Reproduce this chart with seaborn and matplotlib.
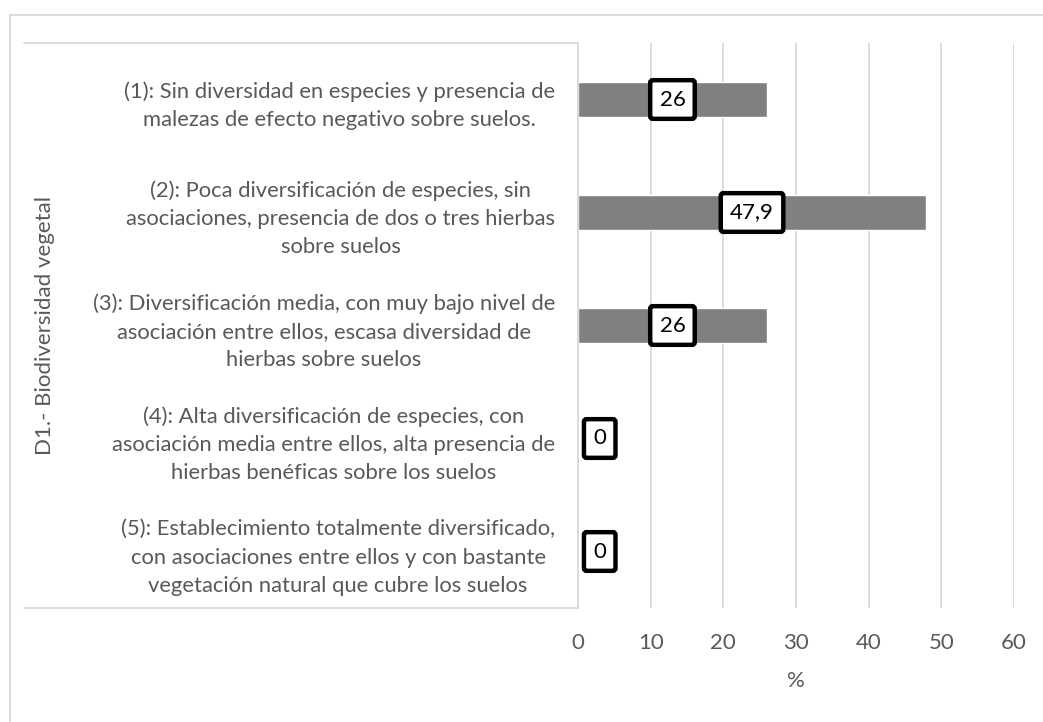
import matplotlib
matplotlib.use("Agg")
import matplotlib.pyplot as plt
from matplotlib.lines import Line2D
import seaborn as sns
import pandas as pd

# Indicator level descriptions (category axis) and share of farms (%)
categories = [
    "(1): Sin diversidad en especies y presencia de\nmalezas de efecto negativo sobre suelos.",
    "(2): Poca diversificación de especies, sin\nasociaciones, presencia de dos o tres hierbas\nsobre suelos",
    "(3): Diversificación media, con muy bajo nivel de\nasociación entre ellos, escasa diversidad de\nhierbas sobre suelos",
    "(4): Alta diversificación de especies, con\nasociación media entre ellos, alta presencia de\nhierbas benéficas sobre los suelos",
    "(5): Establecimiento totalmente diversificado,\ncon asociaciones entre ellos y con bastante\nvegetación natural que cubre los suelos",
]
values = [26, 47.9, 26, 0, 0]
value_labels = ["26", "47,9", "26", "0", "0"]
group_label = "D1.- Biodiversidad vegetal"
x_ticks = [0, 10, 20, 30, 40, 50, 60]
x_label = "%"

TEXT = "#595959"
GRID = "#d9d9d9"
BAR = "#808080"
FS = 16
FS_CAT = 15.8

sns.set_theme(style="white")
plt.rcParams["font.family"] = ["Lato", "DejaVu Sans"]

W, H = 1043, 722
fig = plt.figure(figsize=(W / 100, H / 100), dpi=100)
left_px, right_px, top_px, bottom_px = 578, 1014, 43, 608
ax = fig.add_axes([left_px / W, 1 - bottom_px / H,
                   (right_px - left_px) / W, (bottom_px - top_px) / H])

df = pd.DataFrame({"cat": categories, "val": values})
sns.barplot(data=df, y="cat", x="val", orient="h", color=BAR,
            saturation=1, width=0.31, ax=ax, zorder=2)

ax.set_xlim(0, 60)
ax.set_ylim(len(categories) - 0.5, -0.5)
ax.set_xticks(x_ticks)
ax.set_xticklabels([str(t) for t in x_ticks])
ax.grid(axis="x", color=GRID, linewidth=1.3, zorder=0)
ax.grid(axis="y", visible=False)
ax.set_axisbelow(True)
for s in ["top", "right", "bottom"]:
    ax.spines[s].set_visible(False)
ax.spines["left"].set_color(GRID)
ax.spines["left"].set_linewidth(1.3)

# x-axis ticks and label
ax.tick_params(axis="x", length=0, pad=18, labelsize=FS, labelcolor=TEXT)
ax.set_xlabel(x_label, fontsize=FS, color=TEXT, labelpad=13)

# category descriptions: each block centred on itself, right-aligned as a block
ax.tick_params(axis="y", length=0, pad=16.5, labelsize=FS_CAT, labelcolor=TEXT)
for lab in ax.get_yticklabels():
    lab.set_horizontalalignment("right")
    lab.set_multialignment("center")
    lab.set_linespacing(1.52)

ax.set_ylabel(group_label, fontsize=FS, color=TEXT)
ax.yaxis.set_label_coords((55 - left_px) / (right_px - left_px), 0.5)

# outer lines of the category panel
x0 = (24 - left_px) / (right_px - left_px)
for yy in (0, 1):
    ax.plot([x0, 0], [yy, yy], transform=ax.transAxes, color=GRID,
            lw=1.3, clip_on=False, zorder=1)

# boxed value labels
box = dict(boxstyle="round,pad=0.42,rounding_size=0.12", fc="white",
           ec="black", lw=3.2)
for i, (v, t) in enumerate(zip(values, value_labels)):
    if v > 0:
        ax.annotate(t, xy=(v / 2, i), ha="center", va="center",
                    fontsize=FS, color="black", bbox=box, zorder=4)
    else:
        ax.annotate(t, xy=(0, i), xytext=(11, 0), textcoords="offset points",
                    ha="left", va="center", fontsize=FS, color="black",
                    bbox=box, zorder=4)

# chart frame (top and left edges)
fig.add_artist(Line2D([10 / W, 1], [1 - 14.5 / H, 1 - 14.5 / H],
                      color=GRID, lw=1.3))
fig.add_artist(Line2D([10 / W, 10 / W], [0, 1 - 14.5 / H],
                      color=GRID, lw=1.3))

fig.savefig("out.png", dpi=100, facecolor="white")
